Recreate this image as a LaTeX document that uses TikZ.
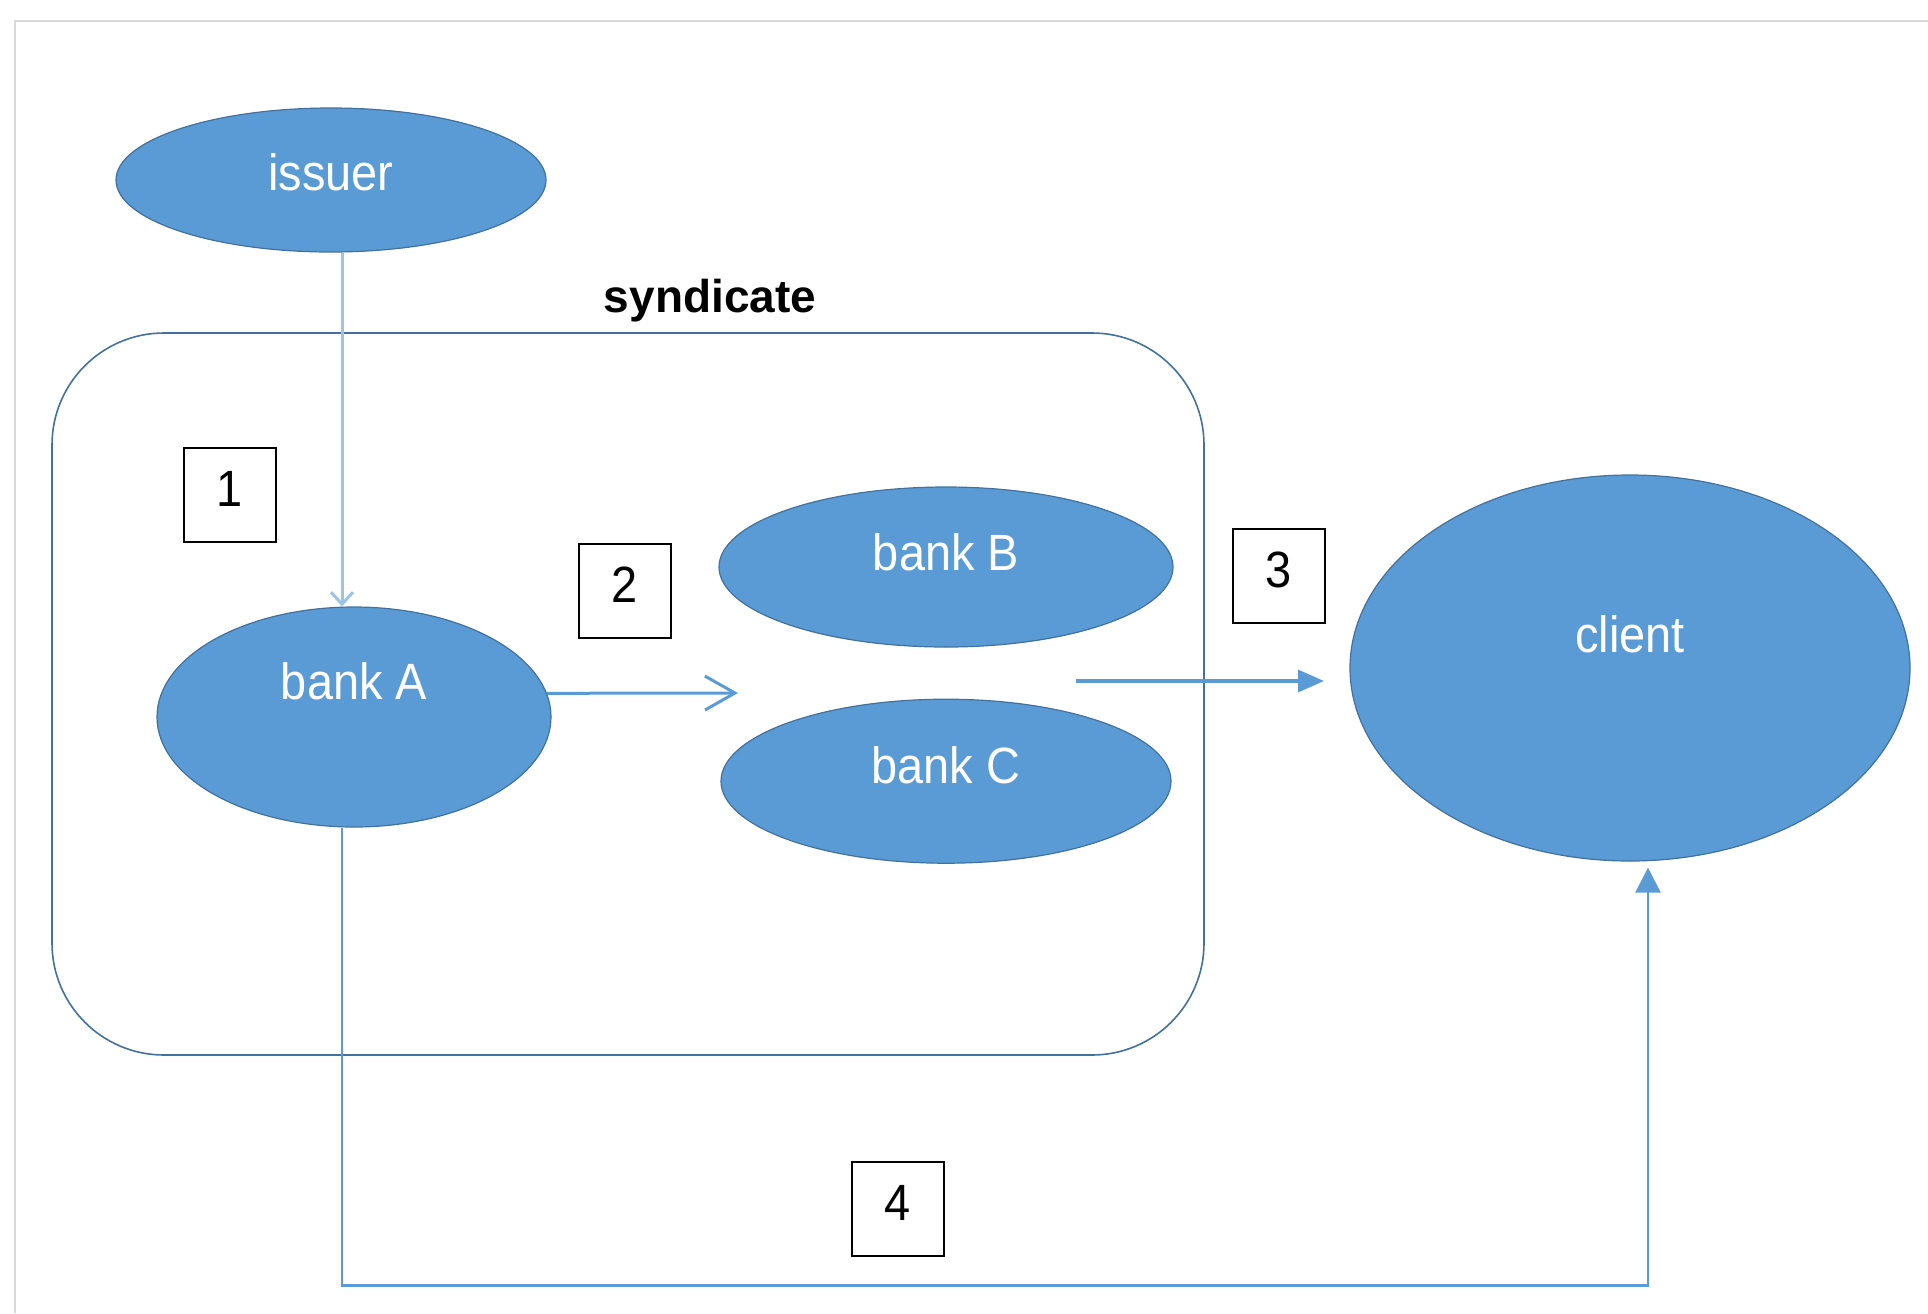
\documentclass[tikz,border=0pt]{standalone}
\usepackage{fontspec}
\setmainfont{Liberation Sans}
\newfontfamily\narrowsans[FakeStretch=0.92]{Liberation Sans}
\usepackage{xcolor}
\usepackage{tikz}
\usetikzlibrary{positioning}
\usetikzlibrary{shapes.geometric}
\usetikzlibrary{arrows.meta}
\definecolor{officeblue}{HTML}{5B9BD5}
\definecolor{officeedge}{HTML}{41719C}
\definecolor{paleblue}{HTML}{9DC3E6}
\definecolor{framegray}{HTML}{D9D9D9}

\begin{document}
\begin{tikzpicture}[
    x = .5pt,
    y = -.5pt,
    font = \narrowsans\fontsize{25.5}{30}\selectfont,
    party/.style = {
      ellipse,
      draw=officeedge,
      line width=.6pt,
      fill=officeblue,
      text=white,
      inner sep=0pt,
      text height=18.5pt
    },
    stepbox/.style = {
      rectangle,
      draw=black,
      line width=1pt,
      fill=white,
      minimum width=46pt,
      minimum height=47pt,
      inner sep=0pt,
      text height=18.5pt,
      text depth=7.5pt
    },
    group/.style = {
      draw=officeedge,
      line width=.8pt,
      rounded corners=56pt
    },
    feed/.style = {
      draw=paleblue,
      line width=1.5pt
    },
    flow/.style = {
      draw=officeblue,
      line width=1.5pt
    }
  ]
    \useasboundingbox (0,0) rectangle (1928,1313);
    \draw[framegray, line width=1pt] (15,1313) -- (15,21) -- (1928,21);

    \draw[group] (52,333) rectangle (1204,1055);
    \node[font=\rmfamily\fontsize{23}{28}\selectfont\bfseries] (syndicate) at (710,301) {syndicate};

    \node[party, minimum width=215pt, minimum height=72pt, text depth=8.5pt] (issuer) at (331,180) {issuer};
    \node[party, minimum width=197pt, minimum height=110pt, text depth=36.5pt] (bankA) at (354,717) {bank A};
    \node[party, minimum width=227pt, minimum height=80pt, text depth=15.5pt] (bankB) at (946,567) {bank B};
    \node[party, minimum width=225pt, minimum height=82pt, text depth=16.5pt] (bankC) [below=25.5pt of bankB] {bank C};
    \node[party, minimum width=280pt, minimum height=193pt, text depth=34.5pt] (client) at (1630,668) {client};

    \node[stepbox] (s1) at (230,495) {1};
    \node[stepbox] (s2) at (625,591) {2};
    \node[stepbox] (s3) at (1279,576) {3};
    \node[stepbox] (s4) at (898,1209) {4};

    \coordinate (toBC) at (738,693);
    \coordinate (fromBC) at (1076,681);
    \coordinate (toClient) at (1324,681);

    \draw[feed, -{Straight Barb[length=6pt,width=11pt]}] ([xshift=5.5pt]issuer.south) -- ([xshift=-6pt]bankA.north);
    \draw[flow, -{Straight Barb[length=15pt,width=17pt]}] (bankA.7) -- (toBC);
    \draw[flow, line width=1.8pt, -{Triangle[length=13pt,width=11pt]}] (fromBC) -- (toClient);
    \draw[flow, line width=1.3pt, -{Triangle[length=12.5pt,width=12.5pt]}] ([xshift=-6pt]bankA.south) -- ++(0,458) -| ([xshift=9pt,yshift=-3pt]client.south);

  \end{tikzpicture}
\end{document}
